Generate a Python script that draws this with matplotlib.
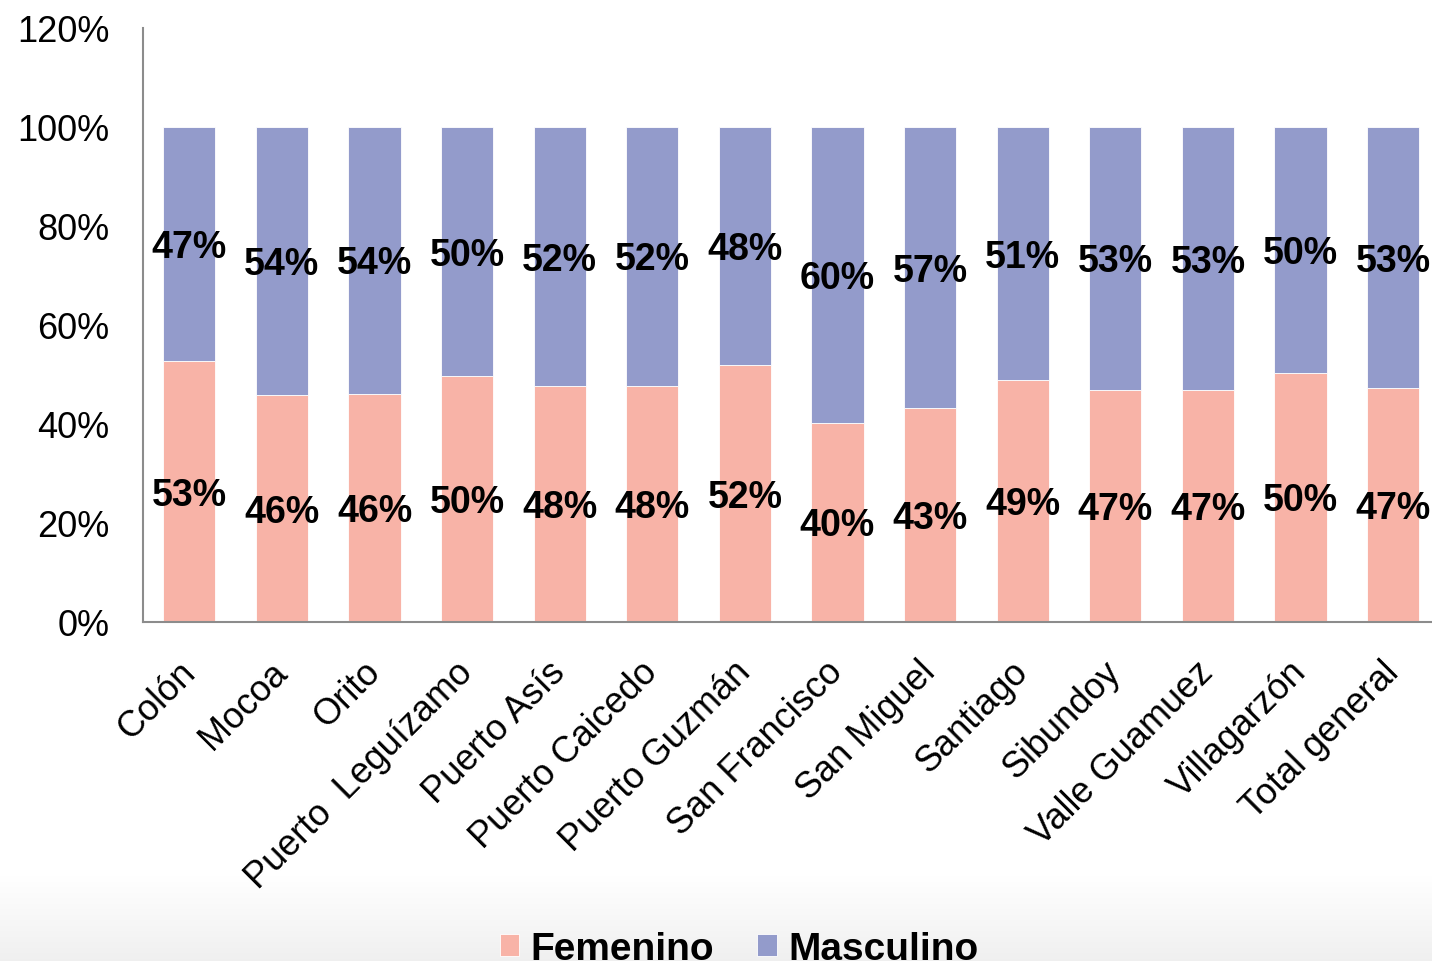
import numpy as np
import matplotlib
matplotlib.use("Agg")
import matplotlib.pyplot as plt
import matplotlib.transforms as mtransforms

plt.rcParams["font.family"] = ["Liberation Sans", "DejaVu Sans"]

# Data (percentages)
municipios = ["Colón", "Mocoa", "Orito", "Puerto  Leguízamo", "Puerto Asís",
              "Puerto Caicedo", "Puerto Guzmán", "San Francisco", "San Miguel",
              "Santiago", "Sibundoy", "Valle Guamuez", "Villagarzón",
              "Total general"]
femenino = [52.7, 45.8, 46.1, 49.6, 47.6, 47.7, 51.9, 40.2, 43.2, 48.8, 46.9, 46.8, 50.3, 47.2]
masculino = [47.3, 54.2, 53.9, 50.4, 52.4, 52.3, 48.1, 59.8, 56.8, 51.2, 53.1, 53.2, 49.7, 52.8]
yticks = [0, 20, 40, 60, 80, 100, 120]

c_fem = "#F8B3A7"
c_mas = "#939BCB"

W, H = 1432, 962
fig = plt.figure(figsize=(W / 100, H / 100), dpi=100)

# light gray gradient band at the bottom
bg = fig.add_axes([0, 0, 1, 85 / H])
grad = np.linspace(1.0, 0.94, 100).reshape(-1, 1)
bg.imshow(np.dstack([grad, grad, grad]), aspect="auto", extent=[0, 1, 0, 1], origin="upper")
bg.axis("off")

left, bottom, top = 143 / W, 1 - 623 / H, 1 - 29 / H
ax = fig.add_axes([left, bottom, 1 - left, top - bottom])
step = 92.6
x = np.arange(len(municipios))
bw = 0.565

b1 = ax.bar(x, femenino, bw, color=c_fem, edgecolor="white", linewidth=0.6, label="Femenino")
b2 = ax.bar(x, masculino, bw, bottom=femenino, color=c_mas, edgecolor="white", linewidth=0.6, label="Masculino")

# data labels, nudged slightly down like the original
dy = 0.6
for i in range(len(municipios)):
    ax.text(x[i], femenino[i] / 2 - dy, f"{round(femenino[i])}%", ha="center", va="center",
            fontsize=27, fontweight="bold", color="black")
    ax.text(x[i], femenino[i] + masculino[i] / 2 - dy, f"{round(masculino[i])}%", ha="center",
            va="center", fontsize=27, fontweight="bold", color="black")

ax.set_xlim(-0.5, -0.5 + (W - 143) / step)
ax.set_ylim(0, 120)
ax.set_yticks(yticks)
ax.set_yticklabels([f"{v}%" for v in yticks], fontsize=26)
ax.tick_params(axis="y", length=0, pad=24)
ax.set_xticks(x)
ax.set_xticklabels(municipios, rotation=45, ha="right", rotation_mode="anchor", fontsize=26)
ax.tick_params(axis="x", length=0, pad=23)
offset = mtransforms.ScaledTranslation(-12 / 100, 0, fig.dpi_scale_trans)
for lab in ax.get_xticklabels():
    lab.set_transform(lab.get_transform() + offset)

for s in ["top", "right"]:
    ax.spines[s].set_visible(False)
for s in ["left", "bottom"]:
    ax.spines[s].set_color("#8C8C8C")
    ax.spines[s].set_linewidth(1.5)
ax.set_facecolor("none")

fig.legend(handles=[b1, b2], labels=["Femenino", "Masculino"], loc="center",
           bbox_to_anchor=(739 / W, 1 - 950 / H), ncol=2, frameon=False,
           prop={"size": 28, "weight": "bold"}, handlelength=0.5, handleheight=0.5,
           handletextpad=0.3, columnspacing=1.1)

fig.savefig("out.png", dpi=100)
